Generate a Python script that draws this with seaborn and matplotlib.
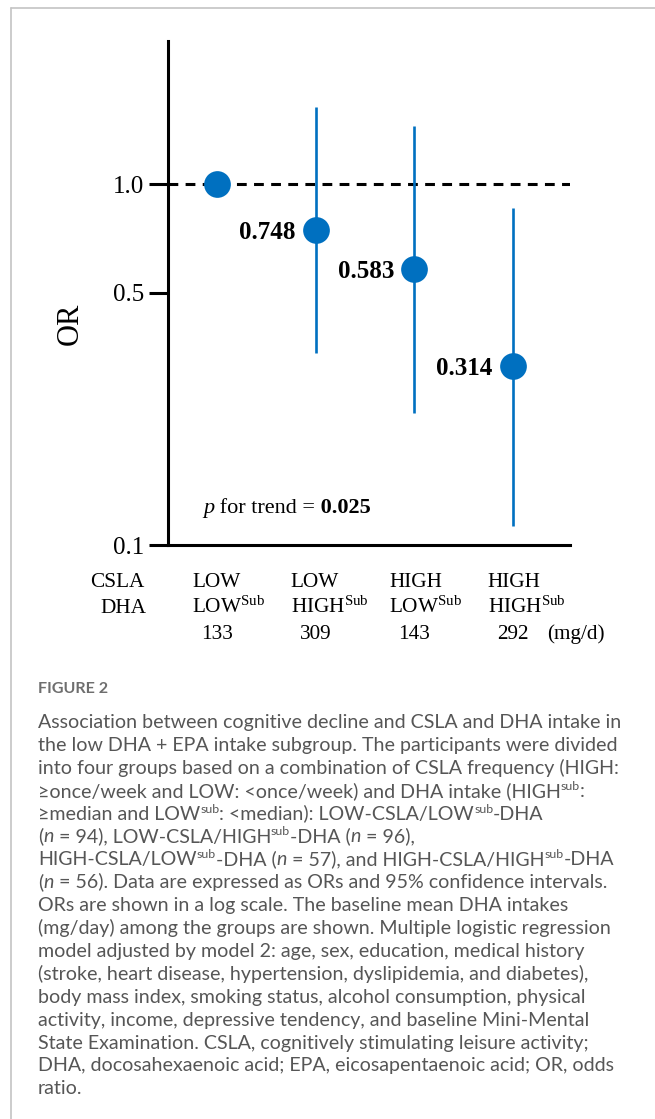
import re
import numpy as np
import pandas as pd
import seaborn as sns
import matplotlib.pyplot as plt
from matplotlib.lines import Line2D
from matplotlib.ticker import NullLocator

# groups: CSLA frequency x DHA intake (low DHA + EPA subgroup)
csla_groups = ["LOW", "LOW", "HIGH", "HIGH"]
dha_groups = ["LOW", "HIGH", "LOW", "HIGH"]
dha_intake = [133, 309, 143, 292]          # mg/d
odds_ratio = [1.0, 0.748, 0.583, 0.314]
ci_low = [np.nan, 0.340, 0.232, 0.113]
ci_high = [np.nan, 1.63, 1.45, 0.858]
y_ticks = [0.1, 0.5, 1.0]
y_ticklabels = ["0.1", "0.5", "1.0"]
p_trend = "0.025"

caption_title = "FIGURE 2"
caption_lines = [
    "Association between cognitive decline and CSLA and DHA intake in",
    "the low DHA + EPA intake subgroup. The participants were divided",
    "into four groups based on a combination of CSLA frequency (HIGH:",
    "\u2265once/week and LOW: <once/week) and DHA intake (HIGH^{sub}:",
    "\u2265median and LOW^{sub}: <median): LOW-CSLA/LOW^{sub}-DHA",
    "(*n* = 94), LOW-CSLA/HIGH^{sub}-DHA (*n* = 96),",
    "HIGH-CSLA/LOW^{sub}-DHA (*n* = 57), and HIGH-CSLA/HIGH^{sub}-DHA",
    "(*n* = 56). Data are expressed as ORs and 95% confidence intervals.",
    "ORs are shown in a log scale. The baseline mean DHA intakes",
    "(mg/day) among the groups are shown. Multiple logistic regression",
    "model adjusted by model 2: age, sex, education, medical history",
    "(stroke, heart disease, hypertension, dyslipidemia, and diabetes),",
    "body mass index, smoking status, alcohol consumption, physical",
    "activity, income, depressive tendency, and baseline Mini-Mental",
    "State Examination. CSLA, cognitively stimulating leisure activity;",
    "DHA, docosahexaenoic acid; EPA, eicosapentaenoic acid; OR, odds",
    "ratio.",
]

sns.set_theme(style="white")
plt.rcParams["font.family"] = ["Liberation Serif", "DejaVu Serif"]
plt.rcParams["mathtext.fontset"] = "custom"
plt.rcParams["mathtext.rm"] = "Liberation Serif"
plt.rcParams["mathtext.it"] = "Liberation Serif:italic"
plt.rcParams["mathtext.bf"] = "Liberation Serif:bold"

W, H = 655, 1119
blue = "#0070c0"
serif = ["Liberation Serif", "DejaVu Serif"]
sans = ["Lato", "DejaVu Sans"]

fig = plt.figure(figsize=(W / 100, H / 100), dpi=100)
ax = fig.add_axes([168 / W, 1 - 545 / H, (570 - 168) / W, (545 - 41) / H])

df = pd.DataFrame({"pos": np.arange(len(odds_ratio)), "OR": odds_ratio,
                   "lo": ci_low, "hi": ci_high})
ci = df.dropna()
ax.vlines(ci["pos"], ci["lo"], ci["hi"], color=blue, lw=1.9, zorder=2)
ax.axhline(1.0, color="black", lw=2.2, ls=(0, (3.2, 2.4)), zorder=1)
sns.scatterplot(data=df, x="pos", y="OR", s=370, color=blue, linewidth=0,
                zorder=4, legend=False, ax=ax)

ax.set_yscale("log")
ax.set_ylim(0.1, 2.49)
ax.set_xlim(-0.497, 3.58)
ax.set_yticks(y_ticks)
ax.set_yticklabels(y_ticklabels, fontsize=18, family=serif)
ax.yaxis.set_minor_locator(NullLocator())
ax.set_xticks([])
ax.set_xlabel("")
ax.set_ylabel("")
ax.tick_params(axis="y", which="major", direction="out", length=13.7,
               width=2.2, color="black", pad=3.5, left=True, labelcolor="black")
sns.despine(ax=ax)
for s in ["left", "bottom"]:
    ax.spines[s].set_color("black")
    ax.spines[s].set_linewidth(2.2)

for i in range(1, len(odds_ratio)):
    ax.annotate(f"{odds_ratio[i]:.3f}", (i, odds_ratio[i]), xytext=(-14.5, -6.5),
                textcoords="offset points", ha="right", va="baseline",
                fontsize=18, fontweight="bold", family=serif, color="black")

renderer = fig.canvas.get_renderer()


def rich_text(x, y, markup, size, family, color, sup_scale=0.63, sup_rise=0.36,
              weight="normal"):
    """Draw a line of text with *italic*, **bold** and ^{sup} runs; x, y in px from top-left."""
    parts = re.split(r"(\*\*.+?\*\*|\*.+?\*|\^\{.+?\})", markup)
    for p in parts:
        if not p:
            continue
        st, wt, fs, rise = "normal", weight, size, 0.0
        if p.startswith("**"):
            p, wt = p[2:-2], "bold"
        elif p.startswith("*"):
            p, st = p[1:-1], "italic"
        elif p.startswith("^{"):
            p, fs, rise = p[2:-1], size * sup_scale, size * sup_rise * 100 / 72
        t = fig.text(x / W, 1 - (y - rise) / H, p, fontsize=fs, family=family,
                     style=st, weight=wt, color=color, ha="left", va="baseline")
        x += t.get_window_extent(renderer).width
    return x


# p for trend
rich_text(203, 513, "*p* for trend =** " + p_trend + "**", 16, serif, "black")


# group labels under the axis
def px(xd):
    return ax.transData.transform((xd, 1.0))[0]


lab_fs = 15.3
row_y = [587, 613, 639]
fig.text(90 / W, 1 - row_y[0] / H, "CSLA", fontsize=lab_fs, family=serif,
         ha="left", va="baseline", color="black")
fig.text(100 / W, 1 - row_y[1] / H, "DHA", fontsize=lab_fs, family=serif,
         ha="left", va="baseline", color="black")
for i in range(len(odds_ratio)):
    x0 = (px(i) - 25) / W
    fig.text(x0, 1 - row_y[0] / H, csla_groups[i], fontsize=lab_fs, family=serif,
             ha="left", va="baseline", color="black")
    fig.text(x0, 1 - row_y[1] / H, dha_groups[i] + r"$^{\mathrm{Sub}}$",
             fontsize=lab_fs, family=serif, ha="left", va="baseline", color="black")
    fig.text(px(i) / W, 1 - row_y[2] / H, str(dha_intake[i]), fontsize=lab_fs,
             family=serif, ha="center", va="baseline", color="black")
fig.text(547 / W, 1 - row_y[2] / H, "(mg/d)", fontsize=lab_fs, family=serif,
         ha="left", va="baseline", color="black")

fig.text(70 / W, 1 - 324 / H, "OR", fontsize=22, family=serif, rotation=90,
         ha="center", va="center", color="black")

# caption
cap_x = 38
probe = fig.text(0, 0, caption_lines[0], fontsize=12, family=sans)
cap_fs = 12 * (620 - cap_x) / probe.get_window_extent(renderer).width
probe.remove()
cap_color = "#565656"
rich_text(cap_x, 693, caption_title, cap_fs * 0.82, sans, "#6e6e6e", weight="bold")
for k, line in enumerate(caption_lines):
    rich_text(cap_x, 728 + k * 22.9, line, cap_fs, sans, cap_color)

# page frame
fig.add_artist(Line2D([11 / W, 1], [1 - 8 / H, 1 - 8 / H], color="#c4c4c4", lw=1.2,
                      transform=fig.transFigure))
fig.add_artist(Line2D([11 / W, 11 / W], [1 - 8 / H, 0], color="#c4c4c4", lw=1.2,
                      transform=fig.transFigure))

fig.savefig("out.png", dpi=100, facecolor="white")
